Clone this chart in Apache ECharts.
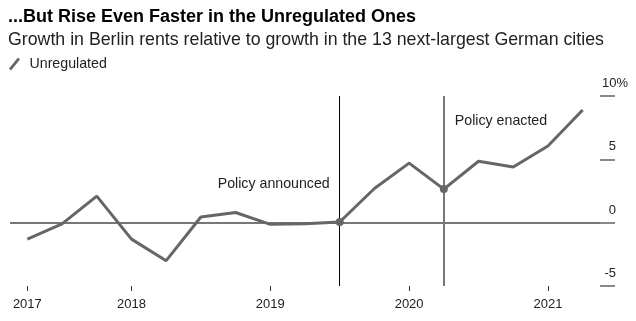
<!DOCTYPE html>
<html>
<head>
<meta charset="utf-8">
<script src="https://cdn.jsdelivr.net/npm/echarts@6/dist/echarts.min.js"></script>
<style>
  html, body { margin: 0; padding: 0; background: #fff; }
  #chart { width: 636px; height: 321px; }
</style>
</head>
<body>
<div id="chart"></div>
<script>
// Quarterly observations, Q1 2017 – Q1 2021
const quarters = [
  '2017 Q1', '2017 Q2', '2017 Q3', '2017 Q4',
  '2018 Q1', '2018 Q2', '2018 Q3', '2018 Q4',
  '2019 Q1', '2019 Q2', '2019 Q3', '2019 Q4',
  '2020 Q1', '2020 Q2', '2020 Q3', '2020 Q4',
  '2021 Q1'
];
// Berlin rent growth relative to the 13 next-largest German cities (%)
const unregulated = [
  -1.3, -0.1, 2.1, -1.3,
  -3.0, 0.45, 0.8, -0.13,
  -0.08, 0.05, 2.7, 4.7,
  2.65, 4.85, 4.4, 6.05,
  8.9
];
// Year ticks along the time axis
const yearTickQuarters = ['2017 Q1', '2017 Q4', '2018 Q4', '2019 Q4', '2020 Q4'];
const yearTickLabels = ['2017', '2018', '2019', '2020', '2021'];
// Value axis ticks
const yTicks = [-5, 0, 5, 10];
// Policy events
const eventQuarters = ['2019 Q2', '2020 Q1'];
const eventLabels = ['Policy announced', 'Policy enacted'];
const eventLabelLevels = [3.05, 8.03];

const FONT = '"Liberation Sans", Arial, sans-serif';
const isYearTick = (idx) => yearTickQuarters.indexOf(quarters[idx]) !== -1;

const seriesData = unregulated.map((v, i) => {
  if (eventQuarters.indexOf(quarters[i]) !== -1) {
    return { value: v, symbol: 'circle', symbolSize: 8 };
  }
  return v;
});

const chart = echarts.init(document.getElementById('chart'), null, { renderer: 'canvas' });
chart.setOption({
  animation: false,
  backgroundColor: '#fff',
  textStyle: { fontFamily: FONT },
  title: [
    {
      text: '...But Rise Even Faster in the Unregulated Ones',
      left: 8, top: 8, padding: 0,
      textStyle: { fontFamily: FONT, fontSize: 18, fontWeight: 'bold', color: '#000' }
    },
    {
      text: 'Growth in Berlin rents relative to growth in the 13 next-largest German cities',
      left: 8, top: 31, padding: 0,
      textStyle: { fontFamily: FONT, fontSize: 17.75, fontWeight: 'normal', color: '#222' }
    }
  ],
  legend: {
    left: 9, top: 57, padding: 0,
    itemWidth: 12, itemHeight: 13,
    icon: 'path://M0,11 L9,0 L11,2 L2,13 Z',
    textStyle: { fontFamily: FONT, fontSize: 14.2, color: '#222', padding: [0, 0, 0, 4] },
    data: ['Unregulated']
  },
  grid: { left: 10, right: 36, top: 96, bottom: 35, containLabel: false },
  xAxis: {
    type: 'category',
    data: quarters,
    boundaryGap: true,
    axisLine: { show: false, onZero: false },
    axisTick: {
      show: true, alignWithLabel: true, length: 5,
      interval: (idx) => isYearTick(idx),
      lineStyle: { color: '#333', width: 1 }
    },
    axisLabel: {
      interval: (idx) => isYearTick(idx),
      formatter: (val) => yearTickLabels[yearTickQuarters.indexOf(val)],
      margin: 12,
      fontFamily: FONT, fontSize: 13, color: '#222'
    },
    splitLine: { show: false }
  },
  yAxis: {
    type: 'value',
    position: 'right',
    min: yTicks[0], max: yTicks[yTicks.length - 1], interval: 5,
    axisLine: { show: false },
    axisTick: { show: true, length: 15, lineStyle: { color: '#888', width: 2 } },
    splitLine: { show: false },
    axisLabel: {
      margin: 28,
      align: 'right',
      verticalAlign: 'bottom',
      padding: [0, 0, 6, 0],
      fontFamily: FONT, fontSize: 13, color: '#222',
      formatter: (v) => v === yTicks[yTicks.length - 1] ? '{n|' + v + '%}' : '{m|' + v + '}',
      rich: {
        n: { fontFamily: FONT, fontSize: 13, color: '#222' },
        m: { fontFamily: FONT, fontSize: 13, color: '#222', padding: [0, 12, 0, 0] }
      }
    }
  },
  series: [{
    name: 'Unregulated',
    type: 'line',
    data: seriesData,
    symbol: 'none',
    showSymbol: true,
    color: '#666',
    lineStyle: { color: '#666', width: 3 },
    itemStyle: { color: '#666' },
    z: 5,
    markLine: {
      silent: true,
      symbol: 'none',
      label: { show: false },
      data: [
        { yAxis: 0, lineStyle: { color: '#777', width: 2, type: 'solid' } },
        { xAxis: eventQuarters[0], lineStyle: { color: '#000', width: 1, type: 'solid' } },
        { xAxis: eventQuarters[1], lineStyle: { color: '#777', width: 2, type: 'solid' } }
      ]
    },
    markPoint: {
      silent: true,
      symbol: 'circle',
      symbolSize: 0,
      data: [
        {
          coord: [eventQuarters[0], eventLabelLevels[0]],
          label: { show: true, formatter: eventLabels[0], position: 'left', distance: 10,
                   fontFamily: FONT, fontSize: 14.2, color: '#222' }
        },
        {
          coord: [eventQuarters[1], eventLabelLevels[1]],
          label: { show: true, formatter: eventLabels[1], position: 'right', distance: 11,
                   fontFamily: FONT, fontSize: 14.2, color: '#222' }
        }
      ]
    }
  }]
});
</script>
</body>
</html>
